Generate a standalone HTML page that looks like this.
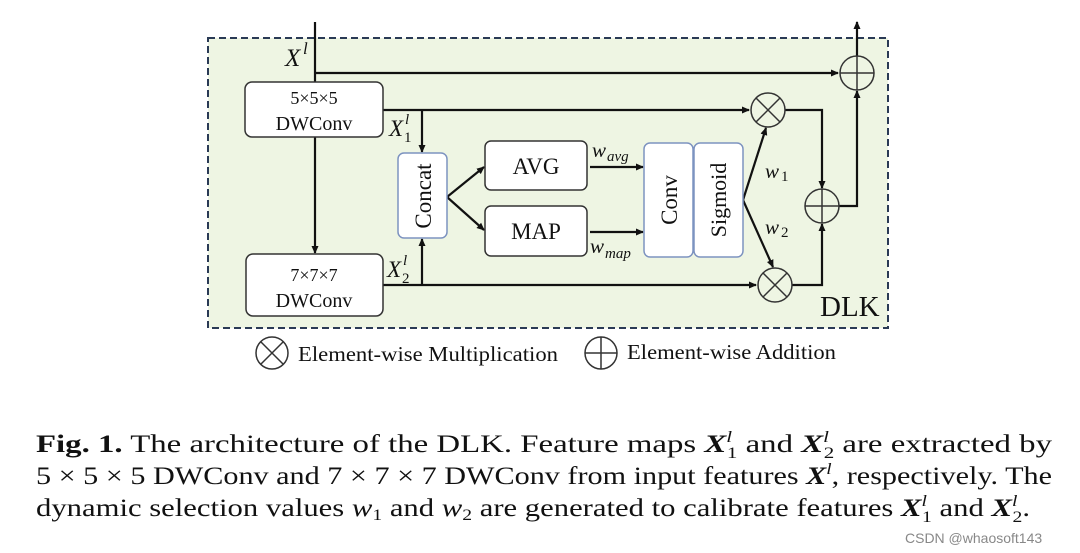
<!DOCTYPE html>
<html><head><meta charset="utf-8"><style>
html,body{margin:0;padding:0;background:#fff;width:1080px;height:553px;overflow:hidden}
svg{display:block}
text{font-family:"Liberation Serif",serif;fill:#111}
</style></head><body>
<svg width="1080" height="553" viewBox="0 0 1080 553" xmlns="http://www.w3.org/2000/svg">
<defs>
<marker id="a" markerWidth="8" markerHeight="8" refX="7" refY="4" orient="auto" markerUnits="userSpaceOnUse"><path d="M0,0.5 L8,4 L0,7.5 z" fill="#111"/></marker>
</defs>
<rect x="208" y="38" width="680" height="290" fill="#eef5e3" stroke="#2a3a55" stroke-width="2" stroke-dasharray="7,4"/>
<g stroke="#111" stroke-width="2.2" fill="none">
<line x1="315" y1="22" x2="315" y2="82"/>
<line x1="315" y1="73" x2="838" y2="73" marker-end="url(#a)"/>
<line x1="315" y1="137" x2="315" y2="253" marker-end="url(#a)"/>
<line x1="383" y1="110" x2="749" y2="110" marker-end="url(#a)"/>
<line x1="422" y1="110" x2="422" y2="152" marker-end="url(#a)"/>
<line x1="383" y1="285" x2="756" y2="285" marker-end="url(#a)"/>
<line x1="422" y1="285" x2="422" y2="239" marker-end="url(#a)"/>
<line x1="447" y1="197" x2="484" y2="167" marker-end="url(#a)"/>
<line x1="447" y1="197" x2="484" y2="230" marker-end="url(#a)"/>
<line x1="590" y1="167" x2="643" y2="167" marker-end="url(#a)"/>
<line x1="590" y1="232" x2="643" y2="232" marker-end="url(#a)"/>
<line x1="743" y1="200" x2="766" y2="128" marker-end="url(#a)"/>
<line x1="743" y1="200" x2="773" y2="267" marker-end="url(#a)"/>
<polyline points="785,110 822,110 822,188" marker-end="url(#a)"/>
<polyline points="792,285 822,285 822,224" marker-end="url(#a)"/>
<polyline points="839,206 857,206 857,91" marker-end="url(#a)"/>
<line x1="857" y1="56" x2="857" y2="22" marker-end="url(#a)"/>
</g>
<g fill="#fff" stroke="#333" stroke-width="1.5">
<rect x="245" y="82" width="138" height="55" rx="7"/>
<rect x="246" y="254" width="137" height="62" rx="7"/>
<rect x="485" y="141" width="102" height="49" rx="6"/>
<rect x="485" y="206" width="102" height="50" rx="6"/>
</g>
<g fill="#fff" stroke="#7d93c0" stroke-width="1.5">
<rect x="398" y="153" width="49" height="85" rx="6"/>
<rect x="644" y="143" width="49" height="114" rx="6"/>
<rect x="694" y="143" width="49" height="114" rx="6"/>
</g>
<g fill="none" stroke="#333" stroke-width="1.5">
<circle cx="768" cy="110" r="17"/><path d="M756,98 L780,122 M780,98 L756,122"/>
<circle cx="775" cy="285" r="17"/><path d="M763,273 L787,297 M787,273 L763,297"/>
<circle cx="857" cy="73" r="17"/><path d="M840,73 H874 M857,56 V90"/>
<circle cx="822" cy="206" r="17"/><path d="M805,206 H839 M822,189 V223"/>
<circle cx="272" cy="353" r="16"/><path d="M261,342 L283,364 M283,342 L261,364"/>
<circle cx="601" cy="353" r="16"/><path d="M585,353 H617 M601,337 V369"/>
</g>
<g font-size="18" text-anchor="middle">
<text x="314" y="104">5×5×5</text><text x="314" y="130" font-size="20">DWConv</text>
<text x="314" y="281">7×7×7</text><text x="314" y="307" font-size="20">DWConv</text>
</g>
<g font-size="23" text-anchor="middle">
<text x="536" y="174">AVG</text><text x="536" y="239">MAP</text>
<text transform="translate(431,196) rotate(-90)">Concat</text>
<text transform="translate(677,200) rotate(-90)">Conv</text>
<text transform="translate(726,200) rotate(-90)" font-size="22">Sigmoid</text>
</g>
<g font-style="italic">
<text x="285" y="66" font-size="25">X</text><text x="303" y="54" font-size="17">l</text>
<text x="389" y="136" font-size="23">X</text><text x="405" y="124" font-size="15">l</text><text x="404" y="142" font-size="15" font-style="normal">1</text>
<text x="387" y="277" font-size="23">X</text><text x="403" y="265" font-size="15">l</text><text x="402" y="283" font-size="15" font-style="normal">2</text>
<text x="592" y="157" font-size="21">w</text><text x="607" y="161" font-size="15">avg</text>
<text x="590" y="253" font-size="21">w</text><text x="605" y="258" font-size="15">map</text>
<text x="765" y="178" font-size="21">w</text><text x="781" y="181" font-size="15" font-style="normal">1</text>
<text x="765" y="234" font-size="21">w</text><text x="781" y="237" font-size="15" font-style="normal">2</text>
</g>
<text x="820" y="316" font-size="29">DLK</text>
<text x="298" y="361" font-size="21" textLength="260" lengthAdjust="spacingAndGlyphs">Element-wise Multiplication</text>
<text x="627" y="359" font-size="21" textLength="209" lengthAdjust="spacingAndGlyphs">Element-wise Addition</text>
<g font-size="25">
<text x="36" y="452" textLength="1016" lengthAdjust="spacingAndGlyphs"><tspan font-weight="bold">Fig. 1.</tspan> The architecture of the DLK. Feature maps <tspan font-weight="bold" font-style="italic">X</tspan><tspan font-size="16" dy="-10" font-style="italic">l</tspan><tspan font-size="16" dy="16" dx="-4">1</tspan><tspan dy="-6"> and </tspan><tspan font-weight="bold" font-style="italic">X</tspan><tspan font-size="16" dy="-10" font-style="italic">l</tspan><tspan font-size="16" dy="16" dx="-4">2</tspan><tspan dy="-6"> are extracted by</tspan></text>
<text x="36" y="484" textLength="1016" lengthAdjust="spacingAndGlyphs">5 × 5 × 5 DWConv and 7 × 7 × 7 DWConv from input features <tspan font-weight="bold" font-style="italic">X</tspan><tspan font-size="16" dy="-10" font-style="italic">l</tspan><tspan dy="10">, respectively. The</tspan></text>
<text x="36" y="516" textLength="994" lengthAdjust="spacingAndGlyphs">dynamic selection values <tspan font-style="italic">w</tspan><tspan font-size="16" dy="4">1</tspan><tspan dy="-4"> and </tspan><tspan font-style="italic">w</tspan><tspan font-size="16" dy="4">2</tspan><tspan dy="-4"> are generated to calibrate features </tspan><tspan font-weight="bold" font-style="italic">X</tspan><tspan font-size="16" dy="-10" font-style="italic">l</tspan><tspan font-size="16" dy="16" dx="-4">1</tspan><tspan dy="-6"> and </tspan><tspan font-weight="bold" font-style="italic">X</tspan><tspan font-size="16" dy="-10" font-style="italic">l</tspan><tspan font-size="16" dy="16" dx="-4">2</tspan><tspan dy="-6">.</tspan></text>
</g>
<text x="905" y="543" font-size="14" style="font-family:'Liberation Sans',sans-serif;fill:#888">CSDN @whaosoft143</text>
</svg>
</body></html>
